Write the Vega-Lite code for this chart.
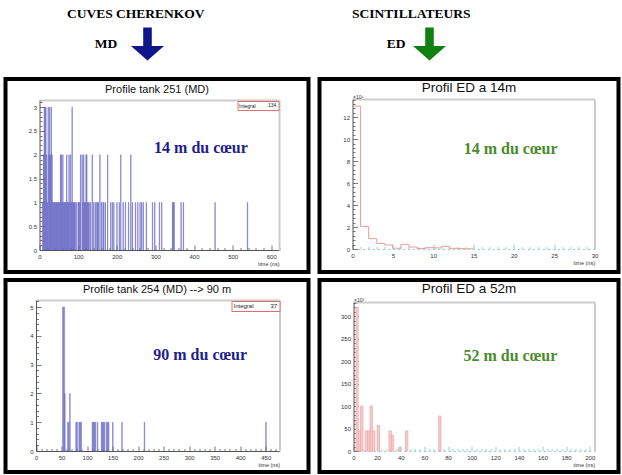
{
  "$schema": "https://vega.github.io/schema/vega-lite/v6.json",
  "background": "white",
  "padding": {"left": 3.5, "top": 0, "right": 0, "bottom": 0},
  "columns": 2,
  "spacing": {"row": 8, "column": 11},
  "bounds": "flush",
  "resolve": {"scale": {"color": "independent"}, "legend": {"color": "independent"}},
  "config": {
    "view": {"stroke": "black", "strokeWidth": 4},
    "font": "Liberation Sans",
    "axis": {"labelFont": "Liberation Sans", "labelFontSize": 6, "labelColor": "#333333", "domainColor": "#555555", "domainWidth": 1, "tickColor": "#555555", "tickWidth": 0.8, "grid": false, "titleFont": "Liberation Sans", "titleFontSize": 5.5, "titleFontWeight": "normal", "titleColor": "#333333", "labelOverlap": false, "labelFlush": false, "labelBound": false},
    "title": {"font": "Liberation Sans", "fontWeight": "normal", "color": "#111111", "anchor": "middle"},
    "legend": {"labelFont": "Liberation Sans", "titleFont": "Liberation Sans"}
  },
  "concat": [
    {
      "width": 303, "height": 71, "view": {"stroke": null, "fill": "white"},
      "data": {"values": [{"item": "MD", "row": "bottom", "text": "MD"}, {"item": "CUVES CHERENKOV", "row": "top", "text": "CUVES CHERENKOV"}, {"item": "arrow", "row": "bottom", "text": ""}]},
      "encoding": {
        "x": {"field": "item", "type": "nominal", "scale": {"type": "point", "domain": ["MD", "CUVES CHERENKOV", "arrow"], "range": [100.5, 142], "padding": 0}, "axis": null},
        "y": {"field": "row", "type": "nominal", "scale": {"type": "point", "domain": ["top", "bottom"], "range": [13.5, 44], "padding": 0}, "axis": null}
      },
      "layer": [
        {"transform": [{"filter": "datum.row === 'top'"}], "mark": {"type": "text", "font": "Liberation Serif", "fontWeight": "bold", "fontSize": 13.5, "color": "black", "dx": 9}, "encoding": {"text": {"field": "text"}}},
        {"transform": [{"filter": "datum.item === 'MD'"}], "mark": {"type": "text", "font": "Liberation Serif", "fontWeight": "bold", "fontSize": 13.5, "color": "black"}, "encoding": {"text": {"field": "text"}}},
        {"transform": [{"filter": "datum.item === 'arrow'"}], "mark": {"type": "point", "shape": "M-0.26,-1L0.26,-1L0.26,0.125L1,0.125L0,1L-1,0.125L-0.26,0.125Z", "filled": true, "size": 1089, "color": "#0f168a", "opacity": 1}}
      ]
    },
    {
      "width": 299, "height": 71, "view": {"stroke": null, "fill": "white"},
      "data": {"values": [{"item": "ED", "row": "bottom", "text": "ED"}, {"item": "SCINTILLATEURS", "row": "top", "text": "SCINTILLATEURS"}, {"item": "arrow", "row": "bottom", "text": ""}]},
      "encoding": {
        "x": {"field": "item", "type": "nominal", "scale": {"type": "point", "domain": ["ED", "SCINTILLATEURS", "arrow"], "range": [76.5, 110], "padding": 0}, "axis": null},
        "y": {"field": "row", "type": "nominal", "scale": {"type": "point", "domain": ["top", "bottom"], "range": [13.5, 44], "padding": 0}, "axis": null}
      },
      "layer": [
        {"transform": [{"filter": "datum.row === 'top'"}], "mark": {"type": "text", "font": "Liberation Serif", "fontWeight": "bold", "fontSize": 13.5, "color": "black", "dx": -1.5}, "encoding": {"text": {"field": "text"}}},
        {"transform": [{"filter": "datum.item === 'ED'"}], "mark": {"type": "text", "font": "Liberation Serif", "fontWeight": "bold", "fontSize": 13.5, "color": "black"}, "encoding": {"text": {"field": "text"}}},
        {"transform": [{"filter": "datum.item === 'arrow'"}], "mark": {"type": "point", "shape": "M-0.26,-1L0.26,-1L0.26,0.125L1,0.125L0,1L-1,0.125L-0.26,0.125Z", "filled": true, "size": 1089, "color": "#12800f", "opacity": 1}}
      ]
    },
    {
      "width": 303, "height": 193,
      "title": {"text": "Profile tank 251 (MD)", "fontSize": 11, "offset": -16},
      "layer": [
        {
          "data": {"values": [
            {"t0": 8, "t1": 9, "n": 1}, {"t0": 10, "t1": 11, "n": 2}, {"t0": 12, "t1": 13, "n": 3}, {"t0": 14, "t1": 15, "n": 3}, {"t0": 16, "t1": 17, "n": 3}, {"t0": 18, "t1": 19, "n": 2}, {"t0": 20, "t1": 21, "n": 1}, {"t0": 22, "t1": 23, "n": 3}, {"t0": 24, "t1": 25, "n": 2}, {"t0": 26, "t1": 27, "n": 3}, {"t0": 28, "t1": 29, "n": 2}, {"t0": 30, "t1": 31, "n": 3}, {"t0": 32, "t1": 33, "n": 2}, {"t0": 34, "t1": 35, "n": 1}, {"t0": 36, "t1": 37, "n": 1}, {"t0": 38, "t1": 39, "n": 1}, {"t0": 40, "t1": 41, "n": 1}, {"t0": 42, "t1": 43, "n": 1}, {"t0": 44, "t1": 45, "n": 1}, {"t0": 46, "t1": 47, "n": 1}, {"t0": 48, "t1": 49, "n": 1}, {"t0": 50, "t1": 51, "n": 1}, {"t0": 52, "t1": 53, "n": 1}, {"t0": 54, "t1": 55, "n": 2}, {"t0": 56, "t1": 57, "n": 2}, {"t0": 58, "t1": 59, "n": 1}, {"t0": 60, "t1": 61, "n": 2}, {"t0": 62, "t1": 63, "n": 1}, {"t0": 64, "t1": 65, "n": 1}, {"t0": 66, "t1": 67, "n": 1}, {"t0": 68, "t1": 69, "n": 1}, {"t0": 70, "t1": 71, "n": 2}, {"t0": 72, "t1": 73, "n": 1}, {"t0": 74, "t1": 75, "n": 1}, {"t0": 76, "t1": 77, "n": 2}, {"t0": 78, "t1": 79, "n": 1}, {"t0": 80, "t1": 81, "n": 2}, {"t0": 82, "t1": 83, "n": 1}, {"t0": 84, "t1": 85, "n": 3}, {"t0": 86, "t1": 87, "n": 1}, {"t0": 88, "t1": 89, "n": 1}, {"t0": 90, "t1": 91, "n": 1}, {"t0": 92, "t1": 93, "n": 1}, {"t0": 96, "t1": 97, "n": 1}, {"t0": 100, "t1": 101, "n": 1}, {"t0": 102, "t1": 103, "n": 1}, {"t0": 104, "t1": 105, "n": 1}, {"t0": 106, "t1": 107, "n": 2}, {"t0": 110, "t1": 111, "n": 2}, {"t0": 112, "t1": 113, "n": 1}, {"t0": 114, "t1": 115, "n": 2}, {"t0": 116, "t1": 117, "n": 1}, {"t0": 118, "t1": 119, "n": 1}, {"t0": 120, "t1": 121, "n": 2}, {"t0": 122, "t1": 123, "n": 2}, {"t0": 124, "t1": 125, "n": 1}, {"t0": 126, "t1": 127, "n": 1}, {"t0": 128, "t1": 129, "n": 1}, {"t0": 132, "t1": 133, "n": 1}, {"t0": 136, "t1": 137, "n": 2}, {"t0": 140, "t1": 141, "n": 1}, {"t0": 144, "t1": 145, "n": 1}, {"t0": 148, "t1": 149, "n": 1}, {"t0": 150, "t1": 151, "n": 1}, {"t0": 152, "t1": 153, "n": 1}, {"t0": 156, "t1": 157, "n": 2}, {"t0": 160, "t1": 161, "n": 1}, {"t0": 164, "t1": 165, "n": 1}, {"t0": 166, "t1": 167, "n": 1}, {"t0": 170, "t1": 171, "n": 1}, {"t0": 176, "t1": 177, "n": 2}, {"t0": 184, "t1": 185, "n": 1}, {"t0": 188, "t1": 189, "n": 1}, {"t0": 192, "t1": 193, "n": 1}, {"t0": 200, "t1": 201, "n": 1}, {"t0": 206, "t1": 207, "n": 1}, {"t0": 210, "t1": 211, "n": 2}, {"t0": 216, "t1": 217, "n": 1}, {"t0": 222, "t1": 223, "n": 1}, {"t0": 230, "t1": 231, "n": 1}, {"t0": 236, "t1": 237, "n": 2}, {"t0": 240, "t1": 241, "n": 1}, {"t0": 248, "t1": 249, "n": 1}, {"t0": 254, "t1": 255, "n": 1}, {"t0": 260, "t1": 261, "n": 1}, {"t0": 264, "t1": 265, "n": 1}, {"t0": 268, "t1": 269, "n": 1}, {"t0": 276, "t1": 277, "n": 1}, {"t0": 292, "t1": 293, "n": 1}, {"t0": 298, "t1": 299, "n": 1}, {"t0": 310, "t1": 311, "n": 1}, {"t0": 316, "t1": 317, "n": 1}, {"t0": 344, "t1": 345, "n": 1}, {"t0": 346, "t1": 347, "n": 1}, {"t0": 348, "t1": 349, "n": 1}, {"t0": 366, "t1": 367, "n": 1}, {"t0": 372, "t1": 373, "n": 1}, {"t0": 454, "t1": 455, "n": 1}, {"t0": 538, "t1": 539, "n": 1}
          ]},
          "mark": {"type": "bar", "stroke": "#5050bb", "strokeWidth": 0.45},
          "encoding": {
            "x": {"field": "t0", "type": "quantitative", "scale": {"domain": [0, 620], "range": [34, 273.5], "nice": false, "zero": false},
              "axis": {"orient": "bottom", "offset": -22, "values": [0,20,40,60,80,100,120,140,160,180,200,220,240,260,280,300,320,340,360,380,400,420,440,460,480,500,520,540,560,580,600,620], "labelExpr": "datum.value % 100 === 0 ? format(datum.value, '~g') : ''", "tickSize": {"condition": {"test": "datum.value % 100 === 0", "value": -5}, "value": -2.5}, "labelPadding": 8, "title": "time (ns)", "titleAnchor": "end", "titlePadding": 0}},
            "x2": {"field": "t1"},
            "y": {"field": "n", "type": "quantitative", "scale": {"domain": [0, 3.15], "range": [171, 21], "nice": false},
              "axis": {"orient": "left", "offset": -34, "values": [0,0.1,0.2,0.3,0.4,0.5,0.6,0.7,0.8,0.9,1,1.1,1.2,1.3,1.4,1.5,1.6,1.7,1.8,1.9,2,2.1,2.2,2.3,2.4,2.5,2.6,2.7,2.8,2.9,3,3.1], "labelExpr": "abs(datum.value*2 - round(datum.value*2)) < 0.001 ? format(datum.value, '~g') : ''", "tickSize": {"condition": {"test": "abs(datum.value*2 - round(datum.value*2)) < 0.001", "value": -5}, "value": -2.5}, "labelPadding": 8, "title": null}},
            "y2": {"datum": 0},
            "color": {"datum": "134", "type": "nominal", "scale": {"range": ["#b8b8e6"]},
              "legend": {"orient": "none", "legendX": 232, "legendY": 22, "title": "Integral", "titleOrient": "left", "titleFontSize": 5, "titleFontWeight": "normal", "titlePadding": 7, "labelFontSize": 5, "symbolSize": 0, "symbolOpacity": 0, "symbolStrokeWidth": 0, "strokeColor": "#e07070", "fillColor": "white", "padding": 1.5, "labelOffset": 0, "titleColor": "#222222", "labelColor": "#222222"}}
          }
        },
        {
          "data": {"values": [{"t": 418, "n": 2.14, "label": "14 m du cœur"}]},
          "mark": {"type": "text", "font": "Liberation Serif", "fontWeight": "bold", "fontSize": 16, "color": "#1e1e8c"},
          "encoding": {
            "x": {"field": "t", "type": "quantitative", "scale": {"domain": [0, 620], "range": [34, 273.5], "nice": false, "zero": false}, "axis": {"orient": "top", "offset": -21, "domainColor": "#cccccc", "domainWidth": 2, "ticks": false, "labels": false, "title": null}},
            "y": {"field": "n", "type": "quantitative", "scale": {"domain": [0, 3.15], "range": [171, 21], "nice": false}, "axis": {"orient": "right", "offset": -29.5, "domainColor": "#cccccc", "domainWidth": 2, "ticks": false, "labels": false, "title": null}},
            "text": {"field": "label"}
          }
        }
      ],
      "resolve": {"axis": {"x": "independent", "y": "independent"}}
    },
    {
      "width": 299, "height": 193,
      "title": {"text": "Profil ED a 14m", "fontSize": 13.5, "offset": -15},
      "layer": [
        {
          "data": {"values": [
            {"t": 0, "v": 13}, {"t": 1, "v": 2.05}, {"t": 2, "v": 0.95}, {"t": 3, "v": 0.5}, {"t": 4, "v": 0.36}, {"t": 5, "v": 0.07}, {"t": 6, "v": 0.42}, {"t": 7, "v": 0.18}, {"t": 8, "v": 0.04}, {"t": 9, "v": 0.12}, {"t": 10, "v": 0.1}, {"t": 11, "v": 0.24}, {"t": 12, "v": 0.06}, {"t": 13, "v": 0.03}, {"t": 14, "v": 0.02}, {"t": 15, "v": 0}
          ]},
          "mark": {"type": "line", "interpolate": "step-after", "color": "#f09a9a", "strokeWidth": 1},
          "encoding": {
            "x": {"field": "t", "type": "quantitative", "scale": {"domain": [0, 30], "range": [33, 275], "nice": false, "zero": false},
              "axis": {"orient": "bottom", "offset": -23, "values": [0,1,2,3,4,5,6,7,8,9,10,11,12,13,14,15,16,17,18,19,20,21,22,23,24,25,26,27,28,29,30], "labelExpr": "datum.value % 5 === 0 ? format(datum.value, '~g') : ''", "tickSize": {"condition": {"test": "datum.value % 5 === 0", "value": -5}, "value": -2.5}, "labelPadding": 8, "title": "time (ns)", "titleAnchor": "end", "titlePadding": 0, "domainColor": "#8fd0d0", "domainDash": [2, 3], "tickColor": "#7ac4c4"}},
            "y": {"field": "v", "type": "quantitative", "scale": {"domain": [0, 13.65], "range": [170, 20], "nice": false},
              "axis": {"orient": "left", "offset": -33, "values": [0,0.4,0.8,1.2,1.6,2,2.4,2.8,3.2,3.6,4,4.4,4.8,5.2,5.6,6,6.4,6.8,7.2,7.6,8,8.4,8.8,9.2,9.6,10,10.4,10.8,11.2,11.6,12,12.4,12.8,13.2,13.6], "labelExpr": "abs(datum.value/2 - round(datum.value/2)) < 0.001 ? format(datum.value, '~g') : ''", "tickSize": {"condition": {"test": "abs(datum.value/2 - round(datum.value/2)) < 0.001", "value": -5}, "value": -2.5}, "labelPadding": 8, "title": "×10⁶", "titleAngle": 0, "titleAlign": "left", "titleBaseline": "bottom", "titleX": 0, "titleY": 20, "titleFontSize": 5}}
          }
        },
        {
          "data": {"values": [{"t": 19.6, "v": 9.14, "label": "14 m du cœur"}]},
          "mark": {"type": "text", "font": "Liberation Serif", "fontWeight": "bold", "fontSize": 16, "color": "#4a8c2c"},
          "encoding": {
            "x": {"field": "t", "type": "quantitative", "scale": {"domain": [0, 30], "range": [33, 275], "nice": false, "zero": false}, "axis": {"orient": "top", "offset": -20, "domainColor": "#cccccc", "domainWidth": 2, "ticks": false, "labels": false, "title": null}},
            "y": {"field": "v", "type": "quantitative", "scale": {"domain": [0, 13.65], "range": [170, 20], "nice": false}, "axis": {"orient": "right", "offset": -24, "domainColor": "#cccccc", "domainWidth": 2, "ticks": false, "labels": false, "title": null}},
            "text": {"field": "label"}
          }
        }
      ],
      "resolve": {"axis": {"x": "independent", "y": "independent"}}
    },
    {
      "width": 303, "height": 192,
      "title": {"text": "Profile tank 254 (MD)  -->  90 m", "fontSize": 11, "offset": -15},
      "layer": [
        {
          "data": {"values": [
            {"t0": 52, "t1": 54, "n": 5}, {"t0": 54, "t1": 56, "n": 5}, {"t0": 56, "t1": 57, "n": 2}, {"t0": 62, "t1": 63, "n": 1}, {"t0": 64, "t1": 65, "n": 1}, {"t0": 66, "t1": 67, "n": 2}, {"t0": 78, "t1": 79, "n": 1}, {"t0": 80, "t1": 81, "n": 1}, {"t0": 84, "t1": 85, "n": 1}, {"t0": 86, "t1": 87, "n": 1}, {"t0": 88, "t1": 89, "n": 1}, {"t0": 110, "t1": 111, "n": 1}, {"t0": 112, "t1": 113, "n": 1}, {"t0": 114, "t1": 115, "n": 1}, {"t0": 116, "t1": 117, "n": 1}, {"t0": 120, "t1": 121, "n": 1}, {"t0": 128, "t1": 129, "n": 1}, {"t0": 130, "t1": 131, "n": 1}, {"t0": 132, "t1": 133, "n": 1}, {"t0": 134, "t1": 135, "n": 1}, {"t0": 138, "t1": 139, "n": 1}, {"t0": 140, "t1": 141, "n": 1}, {"t0": 142, "t1": 143, "n": 1}, {"t0": 150, "t1": 151, "n": 1}, {"t0": 168, "t1": 169, "n": 1}, {"t0": 212, "t1": 213, "n": 1}, {"t0": 450, "t1": 451, "n": 1}
          ]},
          "mark": {"type": "bar", "stroke": "#5050bb", "strokeWidth": 0.45},
          "encoding": {
            "x": {"field": "t0", "type": "quantitative", "scale": {"domain": [0, 477], "range": [30.5, 274], "nice": false, "zero": false},
              "axis": {"orient": "bottom", "offset": -21, "values": [0,10,20,30,40,50,60,70,80,90,100,110,120,130,140,150,160,170,180,190,200,210,220,230,240,250,260,270,280,290,300,310,320,330,340,350,360,370,380,390,400,410,420,430,440,450,460,470], "labelExpr": "datum.value % 50 === 0 ? format(datum.value, '~g') : ''", "tickSize": {"condition": {"test": "datum.value % 50 === 0", "value": -5}, "value": -2.5}, "labelPadding": 8, "title": "time (ns)", "titleAnchor": "end", "titlePadding": 0}},
            "x2": {"field": "t1"},
            "y": {"field": "n", "type": "quantitative", "scale": {"domain": [0, 5.25], "range": [171, 20], "nice": false},
              "axis": {"orient": "left", "offset": -30.5, "values": [0,0.2,0.4,0.6,0.8,1,1.2,1.4,1.6,1.8,2,2.2,2.4,2.6,2.8,3,3.2,3.4,3.6,3.8,4,4.2,4.4,4.6,4.8,5,5.2], "labelExpr": "abs(datum.value - round(datum.value)) < 0.001 ? format(datum.value, '~g') : ''", "tickSize": {"condition": {"test": "abs(datum.value - round(datum.value)) < 0.001", "value": -5}, "value": -2.5}, "labelPadding": 8, "title": null}},
            "y2": {"datum": 0},
            "color": {"datum": "37", "type": "nominal", "scale": {"range": ["#b8b8e6"]},
              "legend": {"orient": "none", "legendX": 226, "legendY": 21, "title": "Integral", "titleOrient": "left", "titleFontSize": 6, "titleFontWeight": "normal", "titlePadding": 10, "labelFontSize": 6, "symbolSize": 0, "symbolOpacity": 0, "symbolStrokeWidth": 0, "strokeColor": "#e07070", "fillColor": "white", "padding": 2, "labelOffset": 0, "titleColor": "#222222", "labelColor": "#222222"}}
          }
        },
        {
          "data": {"values": [{"t": 321.6, "n": 3.34, "label": "90 m du cœur"}]},
          "mark": {"type": "text", "font": "Liberation Serif", "fontWeight": "bold", "fontSize": 16, "color": "#1e1e8c"},
          "encoding": {
            "x": {"field": "t", "type": "quantitative", "scale": {"domain": [0, 477], "range": [30.5, 274], "nice": false, "zero": false}, "axis": {"orient": "top", "offset": -20, "domainColor": "#cccccc", "domainWidth": 2, "ticks": false, "labels": false, "title": null}},
            "y": {"field": "n", "type": "quantitative", "scale": {"domain": [0, 5.25], "range": [171, 20], "nice": false}, "axis": {"orient": "right", "offset": -29, "domainColor": "#cccccc", "domainWidth": 2, "ticks": false, "labels": false, "title": null}},
            "text": {"field": "label"}
          }
        }
      ],
      "resolve": {"axis": {"x": "independent", "y": "independent"}}
    },
    {
      "width": 299, "height": 192,
      "title": {"text": "Profil ED a 52m", "fontSize": 13.5, "offset": -15},
      "layer": [
        {
          "data": {"values": [
            {"t0": 2, "t1": 4, "n": 320}, {"t0": 4, "t1": 6, "n": 45}, {"t0": 6, "t1": 8, "n": 100}, {"t0": 10, "t1": 12, "n": 45}, {"t0": 12, "t1": 14, "n": 45}, {"t0": 14, "t1": 16, "n": 100}, {"t0": 16, "t1": 18, "n": 45}, {"t0": 20, "t1": 22, "n": 57}, {"t0": 30, "t1": 32, "n": 45}, {"t0": 32, "t1": 34, "n": 35}, {"t0": 38, "t1": 40, "n": 8}, {"t0": 44, "t1": 46, "n": 45}, {"t0": 72, "t1": 74, "n": 78}
          ]},
          "mark": {"type": "bar", "stroke": "#f0a4a4", "strokeWidth": 0.7},
          "encoding": {
            "x": {"field": "t0", "type": "quantitative", "scale": {"domain": [0, 204], "range": [34, 275], "nice": false, "zero": false},
              "axis": {"orient": "bottom", "offset": -21, "values": [0,4,8,12,16,20,24,28,32,36,40,44,48,52,56,60,64,68,72,76,80,84,88,92,96,100,104,108,112,116,120,124,128,132,136,140,144,148,152,156,160,164,168,172,176,180,184,188,192,196,200,204], "labelExpr": "datum.value % 20 === 0 ? format(datum.value, '~g') : ''", "tickSize": {"condition": {"test": "datum.value % 20 === 0", "value": -5}, "value": -2.5}, "labelPadding": 8, "title": "time (ns)", "titleAnchor": "end", "titlePadding": 0, "domainColor": "#8fd0d0", "domainDash": [2, 3], "tickColor": "#7ac4c4"}},
            "x2": {"field": "t1"},
            "y": {"field": "n", "type": "quantitative", "scale": {"domain": [0, 332], "range": [171, 22], "nice": false},
              "axis": {"orient": "left", "offset": -34, "values": [0,10,20,30,40,50,60,70,80,90,100,110,120,130,140,150,160,170,180,190,200,210,220,230,240,250,260,270,280,290,300,310,320,330], "labelExpr": "datum.value % 50 === 0 ? format(datum.value, '~g') : ''", "tickSize": {"condition": {"test": "datum.value % 50 === 0", "value": -5}, "value": -2.5}, "labelPadding": 8, "title": "×10³", "titleAngle": 0, "titleAlign": "left", "titleBaseline": "bottom", "titleX": 0, "titleY": 22, "titleFontSize": 5}},
            "y2": {"datum": 0},
            "color": {"datum": "ED", "type": "nominal", "scale": {"range": ["#f7cccc"]}, "legend": null}
          }
        },
        {
          "data": {"values": [{"t": 132.8, "n": 212.7, "label": "52 m du cœur"}]},
          "mark": {"type": "text", "font": "Liberation Serif", "fontWeight": "bold", "fontSize": 16, "color": "#4a8c2c"},
          "encoding": {
            "x": {"field": "t", "type": "quantitative", "scale": {"domain": [0, 204], "range": [34, 275], "nice": false, "zero": false}, "axis": {"orient": "top", "offset": -22, "domainColor": "#cccccc", "domainWidth": 2, "ticks": false, "labels": false, "title": null}},
            "y": {"field": "n", "type": "quantitative", "scale": {"domain": [0, 332], "range": [171, 22], "nice": false}, "axis": {"orient": "right", "offset": -24, "domainColor": "#cccccc", "domainWidth": 2, "ticks": false, "labels": false, "title": null}},
            "text": {"field": "label"}
          }
        }
      ],
      "resolve": {"axis": {"x": "independent", "y": "independent"}}
    }
  ]
}
